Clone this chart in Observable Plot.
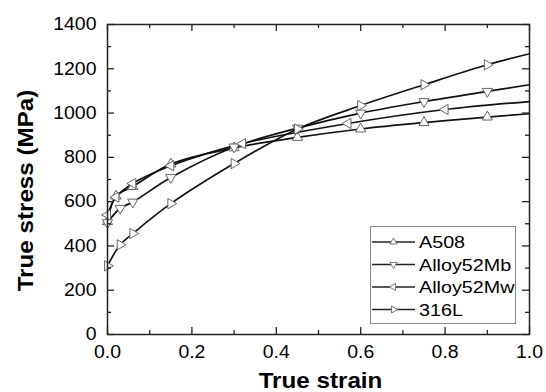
<!DOCTYPE html>
<html><head><meta charset="utf-8">
<script src="https://cdn.jsdelivr.net/npm/d3@7"></script>
<script src="https://cdn.jsdelivr.net/npm/@observablehq/plot@0.6"></script>
<style>
html,body{margin:0;padding:0;background:#fff;}
#chart{position:relative;width:546px;height:392px;}
</style></head><body><div id="chart"></div>
<script>
// ---- data ----
const seriesNames = ["A508", "Alloy52Mb", "Alloy52Mw", "316L"];
const a508Strain = [0, 0.02, 0.06, 0.15, 0.3, 0.45, 0.6, 0.75, 0.9, 1.0];
const a508Stress = [510, 625, 668, 770, 843, 890, 928, 957, 982, 997];
const mbStrain = [0, 0.03, 0.06, 0.15, 0.3, 0.45, 0.6, 0.75, 0.9, 1.0];
const mbStress = [505, 570, 598, 709, 847, 932, 1000, 1052, 1098, 1128];
const mwStrain = [0, 0.02, 0.06, 0.15, 0.32, 0.57, 0.8, 1.0];
const mwStress = [540, 620, 682, 762, 862, 953, 1016, 1052];
const ssStrain = [0, 0.03, 0.06, 0.15, 0.3, 0.45, 0.6, 0.75, 0.9, 1.0];
const ssStress = [310, 405, 456, 591, 772, 928, 1034, 1128, 1218, 1268];
const xTicks = [0, 0.2, 0.4, 0.6, 0.8, 1.0];
const xMinor = [0.1, 0.3, 0.5, 0.7, 0.9];
const yTicks = [0, 200, 400, 600, 800, 1000, 1200, 1400];
const yMinor = [100, 300, 500, 700, 900, 1100, 1300];
const xTitle = "True strain";
const yTitle = "True stress (MPa)";

// triangle marker pointing in a direction (0 = up, 180 = down, -90 = left, 90 = right)
function triSym(deg) {
  const a = deg * Math.PI / 180, c = Math.cos(a), s = Math.sin(a);
  return {
    draw(ctx, size) {
      const y = -Math.sqrt(size / (Math.sqrt(3) * 3));
      const pts = [[0, 2 * y], [-Math.sqrt(3) * y, -y], [Math.sqrt(3) * y, -y]];
      pts.forEach(([px, py], i) => {
        const rx = px * c - py * s, ry = px * s + py * c;
        i ? ctx.lineTo(rx, ry) : ctx.moveTo(rx, ry);
      });
      ctx.closePath();
    }
  };
}
const angles = [0, 180, -90, 90];
const strains = [a508Strain, mbStrain, mwStrain, ssStrain];
const stresses = [a508Stress, mbStress, mwStress, ssStress];
const rows = seriesNames.map((name, k) =>
  strains[k].map((x, i) => ({series: name, strain: x, stress: stresses[k][i]})));

const FONT = '"Liberation Sans", Arial, Helvetica, sans-serif';
const axisCol = "#222";
const W = 546, H = 392, ML = 107, MR = 17, MT = 24, MB = 58;
const FW = W - ML - MR, FH = H - MT - MB;
const MAJ = 7, MIN = 4;

const marks = [];
rows.forEach(r => marks.push(Plot.line(r, {x: "strain", y: "stress", curve: "catmull-rom", stroke: "#111", strokeWidth: 1.7})));
rows.forEach((r, k) => marks.push(Plot.dot(r.filter(d => d.strain < 1), {
  x: "strain", y: "stress", symbol: triSym(angles[k]), r: 3.8,
  stroke: "#666", fill: "white", strokeWidth: 1
})));
const tk = {stroke: axisCol, strokeWidth: 1.3};
marks.push(
  // tick labels
  Plot.axisX(xTicks, {anchor: "bottom", tickSize: 0, tickPadding: 11, tickFormat: d3.format(".1f"), fontSize: 18, label: null, fill: "#000"}),
  Plot.axisY(yTicks, {anchor: "left", tickSize: 0, tickPadding: 11, tickFormat: d3.format("d"), fontSize: 18, label: null, fill: "#000"}),
  // inward ticks on all four sides
  Plot.tickX(xTicks, {x: d => d, insetTop: FH - MAJ, ...tk}),
  Plot.tickX(xMinor, {x: d => d, insetTop: FH - MIN, ...tk}),
  Plot.tickX(xTicks, {x: d => d, insetBottom: FH - MAJ, ...tk}),
  Plot.tickX(xMinor, {x: d => d, insetBottom: FH - MIN, ...tk}),
  Plot.tickY(yTicks, {y: d => d, insetRight: FW - MAJ, ...tk}),
  Plot.tickY(yMinor, {y: d => d, insetRight: FW - MIN, ...tk}),
  Plot.tickY(yTicks, {y: d => d, insetLeft: FW - MAJ, ...tk}),
  Plot.tickY(yMinor, {y: d => d, insetLeft: FW - MIN, ...tk}),
  Plot.frame({stroke: axisCol, strokeWidth: 1.5}),
  // axis titles
  Plot.text([xTitle], {text: d => d, frameAnchor: "bottom", textAnchor: "middle", lineAnchor: "bottom", dy: 53, dx: 2, fontSize: 22, fontWeight: "bold", fill: "#000"}),
  Plot.text([yTitle], {text: d => d, frameAnchor: "left", textAnchor: "middle", lineAnchor: "bottom", rotate: -90, dx: -75, dy: 11, fontSize: 22, fontWeight: "bold", fill: "#000"})
);

const chart = Plot.plot({
  width: W, height: H,
  marginLeft: ML, marginRight: MR, marginTop: MT, marginBottom: MB,
  style: {fontFamily: FONT, background: "#fff", color: "#000", overflow: "visible"},
  x: {domain: [0, 1], axis: null, label: null},
  y: {domain: [0, 1400], axis: null, label: null},
  marks
});
document.getElementById("chart").appendChild(chart);

// ---- legend (inside the plot, lower right) ----
const svg = d3.select(chart);
const lg = svg.append("g").attr("font-family", FONT).attr("text-anchor", "start");
lg.append("rect").attr("x", 370.5).attr("y", 226.5).attr("width", 145).attr("height", 97)
  .attr("fill", "white").attr("stroke", "#888").attr("stroke-width", 1);
seriesNames.forEach((name, k) => {
  const cy = 242 + k * 22.5;
  lg.append("line").attr("x1", 372).attr("x2", 415).attr("y1", cy).attr("y2", cy)
    .attr("stroke", "#222").attr("stroke-width", 1.4);
  const p = d3.path(); triSym(angles[k]).draw(p, 2.6 * 2.6 * Math.PI);
  lg.append("path").attr("d", p.toString()).attr("transform", `translate(393.5,${cy})`)
    .attr("fill", "white").attr("stroke", "#777").attr("stroke-width", 1);
  lg.append("text").attr("class", "lgtext").attr("x", 419).attr("y", cy).attr("dy", "0.36em")
    .attr("text-anchor", "start").attr("font-size", 17).attr("fill", "#000").text(name);
});

// widen the glyphs slightly, as in the reference typeface
function stretch(sel, k) {
  sel.each(function () {
    const w = this.getComputedTextLength();
    if (w > 0) { this.setAttribute("textLength", (w * k).toFixed(1)); this.setAttribute("lengthAdjust", "spacingAndGlyphs"); }
  });
}
stretch(svg.selectAll('g[aria-label="x-axis tick label"] text, g[aria-label="y-axis tick label"] text'), 1.08);
stretch(svg.selectAll('g[aria-label="text"] text'), 1.1);
stretch(svg.selectAll("text.lgtext"), 1.16);
</script></body></html>
